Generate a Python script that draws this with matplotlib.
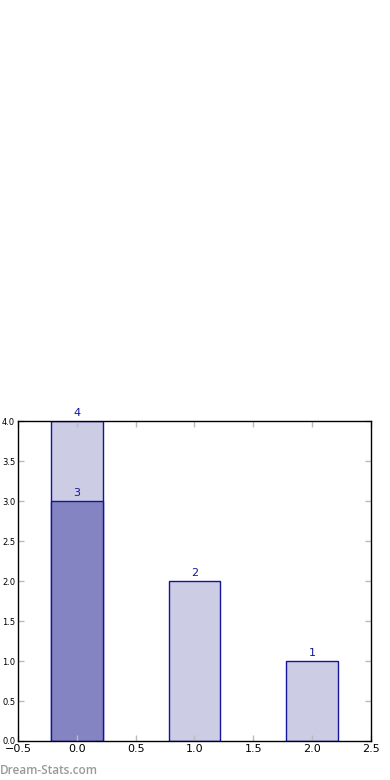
import matplotlib.pyplot as plt

# posicoes e valores das barras
posicoes = [0, 1, 2]
totais = [4, 2, 1]
destaque_pos = [0]
destaque_val = [3]

fig = plt.figure(figsize=(3.9, 7.8), dpi=100)
ax = fig.add_axes([0.046, 0.05, 0.905, 0.41])

# barras claras (total)
ax.bar(posicoes, totais, width=0.44, color='#ccccE5', edgecolor='#14149a', linewidth=1)
# barra escura (destaque)
ax.bar(destaque_pos, destaque_val, width=0.44, color='#8484c2', edgecolor='#14149a', linewidth=1)

# rotulos acima das barras
for x, v in zip(posicoes, totais):
    ax.text(x, v + 0.04, str(v), ha='center', va='bottom', color='#14149a', fontsize=8)
for x, v in zip(destaque_pos, destaque_val):
    ax.text(x, v + 0.04, str(v), ha='center', va='bottom', color='#14149a', fontsize=8)

ax.set_xlim(-0.5, 2.5)
ax.set_ylim(0, 4)
ax.set_xticks([-0.5, 0, 0.5, 1, 1.5, 2, 2.5])
ax.set_yticks([0, 0.5, 1, 1.5, 2, 2.5, 3, 3.5, 4])
ax.tick_params(axis='both', direction='in', color='#bbbbbb', length=4, width=1,
               top=True, right=True)
ax.tick_params(axis='x', labelsize=8, pad=2)
ax.tick_params(axis='y', labelsize=6, pad=2)
for s in ax.spines.values():
    s.set_linewidth(1)
    s.set_color('black')

# marca d'agua
fig.text(0.0, 0.004, 'Dream-Stats.com', color='#999999', fontsize=8.5, family='Open Sans',
         fontweight='semibold', ha='left', va='bottom')

fig.savefig('out.png', dpi=100)
